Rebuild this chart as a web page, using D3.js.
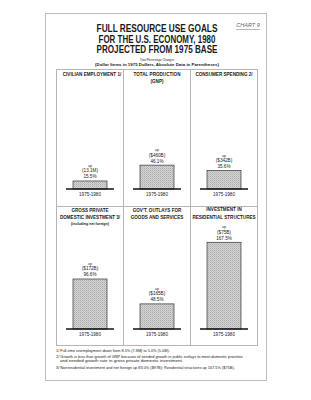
<!DOCTYPE html>
<html><head><meta charset="utf-8">
<script src="https://cdn.jsdelivr.net/npm/d3@7"></script>
<style>
html,body{margin:0;padding:0;background:#fff;}
svg{display:block;font-family:"Liberation Sans",Arial,sans-serif;}
</style></head>
<body><svg id="c" width="311" height="400"></svg>
<script>
// ---- data ----
const titleLines = ["FULL RESOURCE USE GOALS", "FOR THE U.S. ECONOMY, 1980", "PROJECTED FROM 1975 BASE"];
const subtitleLines = ["Total Percentage Changes", "(Dollar Items in 1975 Dollars, Absolute Data in Parentheses)"];
const chartTag = "CHART 9";
const panelTitles = [
  ["CIVILIAN EMPLOYMENT 1/"],
  ["TOTAL PRODUCTION", "(GNP)"],
  ["CONSUMER SPENDING 2/"],
  ["GROSS PRIVATE", "DOMESTIC INVESTMENT 3/", "(including net foreign)"],
  ["GOV'T. OUTLAYS FOR", "GOODS AND SERVICES"],
  ["INVESTMENT IN", "RESIDENTIAL STRUCTURES"]
];
const pctChange = [15.5, 46.1, 35.6, 96.6, 48.5, 167.5];
const absChange = ["(13.1M)", "($460B)", "($342B)", "($172B)", "($165B)", "($75B)"];
const pctLabels = ["15.5%", "46.1%", "35.6%", "96.6%", "48.5%", "167.5%"];
const periodLabel = "1975-1980";
const footnotes = [
  "1/ Full-time unemployment down from 8.5% (7.8M) to 5.0% (5.0M).",
  "2/ Growth is less than growth of GNP because of needed growth in public outlays to meet domestic priorities",
  "and needed growth rate in gross private domestic investment.",
  "3/ Nonresidential investment and net foreign up 83.0% ($97B); Residential structures up 167.5% ($75B)."
];

// ---- layout ----
const svg = d3.select("#c");
const ink = "#1a1a1a";
const page = {x0: 45.5, x1: 266.5, y0: 13.5, y1: 380.5};
const frame = {x0: 56.5, x1: 257.5, y0: 69.5, y1: 345.5};
const rowDiv = 206.5;
const baselines = [189, 329];

// helper: scale text horizontally to a target width via transform
function fitText(sel, x, yy, w, anchor) {
  const natural = sel.node().getComputedTextLength();
  const k = w / natural;
  sel.attr("x", 0).attr("y", 0).attr("text-anchor", anchor)
    .attr("transform", `translate(${x},${yy}) scale(${k},1)`);
}

// page border
svg.append("rect").attr("x", page.x0).attr("y", page.y0)
  .attr("width", page.x1 - page.x0).attr("height", page.y1 - page.y0)
  .attr("fill", "none").attr("stroke", "#bdbdbd").attr("stroke-width", 1);

// chart tag
svg.append("text").attr("x", 248).attr("y", 26.5).attr("text-anchor", "middle")
  .attr("font-size", 5.5).attr("font-style", "italic").attr("fill", "#666").text(chartTag);
svg.append("line").attr("x1", 236).attr("x2", 260).attr("y1", 29.5).attr("y2", 29.5)
  .attr("stroke", "#888").attr("stroke-width", 0.6);

// title
const cx = 157;
const tY = [32, 42.5, 53], tW = [121, 117, 121];
titleLines.forEach((t, i) => {
  const s = svg.append("text").attr("font-size", 10).attr("font-weight", "bold").attr("fill", ink).text(t);
  fitText(s, cx, tY[i], tW[i], "middle");
});
const sY = [60.5, 65.5], sW = [34, 124];
subtitleLines.forEach((t, i) => {
  const s = svg.append("text").attr("font-size", 4.3).attr("font-weight", i ? "bold" : "normal")
    .attr("fill", ink).text(t);
  fitText(s, cx, sY[i], sW[i], "middle");
});

// frame
const gridColor = "#b5b5b5";
svg.append("rect").attr("x", frame.x0).attr("y", frame.y0)
  .attr("width", frame.x1 - frame.x0).attr("height", frame.y1 - frame.y0)
  .attr("fill", "none").attr("stroke", gridColor).attr("stroke-width", 1);
svg.append("line").attr("x1", frame.x0).attr("x2", frame.x1).attr("y1", rowDiv).attr("y2", rowDiv)
  .attr("stroke", gridColor).attr("stroke-width", 1);

const col = d3.scaleBand().domain([0, 1, 2]).range([frame.x0, frame.x1]);
[1, 2].forEach(c => {
  svg.append("line").attr("x1", col(c)).attr("x2", col(c)).attr("y1", frame.y0).attr("y2", frame.y1)
    .attr("stroke", gridColor).attr("stroke-width", 1);
});

// stipple pattern
const defs = svg.append("defs");
const pat = defs.append("pattern").attr("id", "stip").attr("patternUnits", "userSpaceOnUse")
  .attr("width", 2).attr("height", 2);
pat.append("rect").attr("width", 2).attr("height", 2).attr("fill", "#d4d4d4");
pat.append("rect").attr("width", 1).attr("height", 1).attr("fill", "#ababab");
pat.append("rect").attr("x", 1).attr("y", 1).attr("width", 1).attr("height", 1).attr("fill", "#c0c0c0");

const y = d3.scaleLinear().domain([0, 170]).range([0, 88]);
const barW = 34, baseW = 48;
const titleTop = [[76], [76, 82.5], [76], [212, 219, 224.5], [212, 219], [211, 219]];

pctChange.forEach((v, i) => {
  const c = i % 3, r = Math.floor(i / 3);
  const mid = col(c) + col.bandwidth() / 2;
  const base = baselines[r];
  const g = svg.append("g");
  panelTitles[i].forEach((t, j) => {
    const small = t.startsWith("(including");
    g.append("text").attr("x", mid + (c === 0 && r === 0 ? 2 : 0)).attr("y", titleTop[i][j])
      .attr("text-anchor", "middle").attr("font-size", small ? 3.6 : 4.6)
      .attr("font-weight", "bold").attr("fill", ink).text(t);
  });
  const top = base - y(v);
  g.append("rect").attr("x", mid - barW / 2).attr("y", top).attr("width", barW).attr("height", y(v))
    .attr("fill", "url(#stip)").attr("stroke", "#333").attr("stroke-width", 0.7);
  g.append("line").attr("x1", mid - baseW / 2).attr("x2", mid + baseW / 2).attr("y1", base).attr("y2", base)
    .attr("stroke", "#111").attr("stroke-width", 1.4);
  g.append("text").attr("x", mid).attr("y", top - 2.5).attr("text-anchor", "middle")
    .attr("font-size", 4.6).attr("fill", ink).text(pctLabels[i]);
  g.append("text").attr("x", mid).attr("y", top - 8.5).attr("text-anchor", "middle")
    .attr("font-size", 4.6).attr("fill", ink).text(absChange[i]);
  g.append("text").attr("x", mid).attr("y", top - 14).attr("text-anchor", "middle")
    .attr("font-size", 3.6).attr("fill", ink).text("up");
  g.append("text").attr("x", mid).attr("y", base + 7).attr("text-anchor", "middle")
    .attr("font-size", 4.6).attr("fill", ink).text(periodLabel);
});

// footnotes
const fY = [352, 357.5, 361.5, 368.5], fX = [56, 56, 60, 56], fW = [114, 187, 123, 179];
footnotes.forEach((t, i) => {
  const s = svg.append("text").attr("font-size", 3.6).attr("fill", ink).text(t);
  fitText(s, fX[i], fY[i], fW[i], "start");
});
</script></body></html>
